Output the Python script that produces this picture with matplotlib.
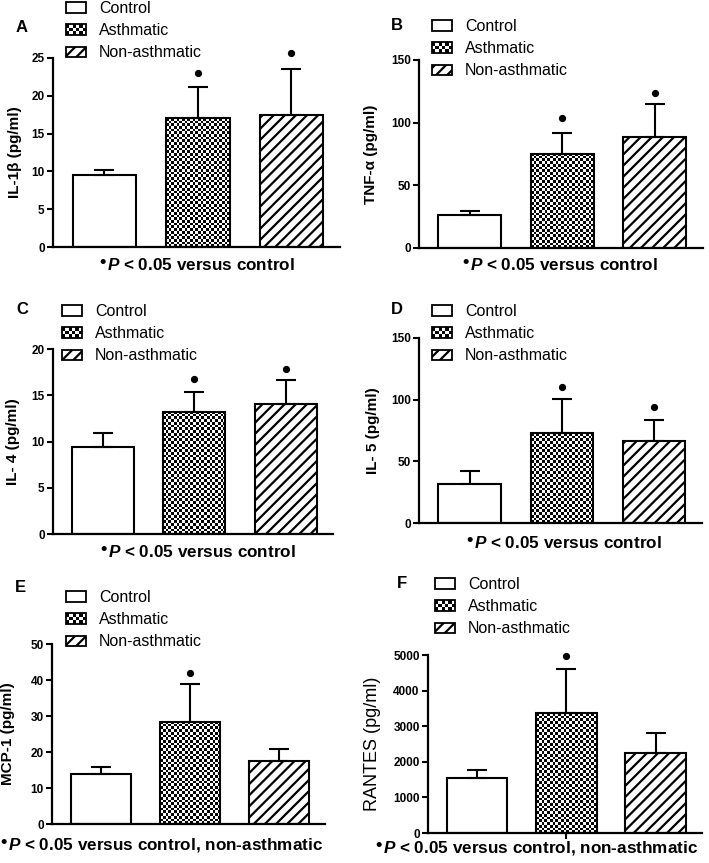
import numpy as np
import matplotlib
matplotlib.use('Agg')
import matplotlib.pyplot as plt
from matplotlib.patches import Rectangle
from matplotlib.legend_handler import HandlerBase

plt.rcParams['font.family'] = ['Liberation Sans', 'DejaVu Sans']
plt.rcParams['hatch.linewidth'] = 1.6
plt.rcParams['mathtext.fontset'] = 'custom'
plt.rcParams['mathtext.rm'] = 'Liberation Sans:bold'
plt.rcParams['mathtext.it'] = 'Liberation Sans:italic:bold'
plt.rcParams['mathtext.bf'] = 'Liberation Sans:bold'

groups = ['Control', 'Asthmatic', 'Non-asthmatic']

# mean, upper error (SEM), significance marker height (nan = none)
il1b_mean = [9.5, 17.05, 17.5]
il1b_err = [0.75, 4.1, 6.0]
il1b_sig = [np.nan, 23.05, 25.6]

tnfa_mean = [26.1, 75.1, 88.4]
tnfa_err = [3.5, 16.6, 26.4]
tnfa_sig = [np.nan, 103.6, 123.4]

il4_mean = [9.45, 13.2, 14.1]
il4_err = [1.45, 2.1, 2.6]
il4_sig = [np.nan, 16.75, 17.8]

il5_mean = [31.8, 72.7, 66.3]
il5_err = [10.2, 27.5, 17.5]
il5_sig = [np.nan, 110.0, 94.0]

mcp1_mean = [14.0, 28.4, 17.5]
mcp1_err = [1.9, 10.4, 3.4]
mcp1_sig = [np.nan, 41.9, np.nan]

rantes_mean = [1542, 3364, 2252]
rantes_err = [234, 1234, 552]
rantes_sig = [np.nan, 4972, np.nan]

W, H = 709, 863
fig = plt.figure(figsize=(W / 100, H / 100), dpi=100)

# panel settings: axes box in px (left, right, top, bottom)
panels = [
    dict(letter='A', ylabel='IL-1β (pg/ml)', mean=il1b_mean, err=il1b_err, sig=il1b_sig,
         ymax=25, step=5, box=(53, 340, 58, 247), letter_xy=(22, 28), leg_xy=(66, 1),
         note='control', note_xy=(201, 265), ylab_x=22.5),
    dict(letter='B', ylabel='TNF-α (pg/ml)', mean=tnfa_mean, err=tnfa_err, sig=tnfa_sig,
         ymax=150, step=50, box=(419, 703, 60, 248), letter_xy=(397, 25), leg_xy=(432, 19),
         note='control', note_xy=(564, 265), ylab_x=377.5),
    dict(letter='C', ylabel='IL- 4 (pg/ml)', mean=il4_mean, err=il4_err, sig=il4_sig,
         ymax=20, step=5, box=(53, 333, 349, 534), letter_xy=(22, 310), leg_xy=(62, 304),
         note='control', note_xy=(202, 552), ylab_x=20.5),
    dict(letter='D', ylabel='IL- 5 (pg/ml)', mean=il5_mean, err=il5_err, sig=il5_sig,
         ymax=150, step=50, box=(419, 702, 338, 523), letter_xy=(397, 310), leg_xy=(432, 304),
         note='control', note_xy=(568, 543), ylab_x=380.5),
    dict(letter='E', ylabel='MCP-1 (pg/ml)', mean=mcp1_mean, err=mcp1_err, sig=mcp1_sig,
         ymax=50, step=10, box=(52, 325, 644, 824), letter_xy=(20, 587), leg_xy=(66, 590),
         note='control, non-asthmatic', note_xy=(166, 845), ylab_x=15.5),
    dict(letter='F', ylabel='RANTES (pg/ml)', mean=rantes_mean, err=rantes_err, sig=rantes_sig,
         ymax=5000, step=1000, box=(428, 702, 655, 833), letter_xy=(402, 583), leg_xy=(435, 577),
         note='control, non-asthmatic', note_xy=(541, 848), ylab_x=381.5),
]


class CheckerHandler(HandlerBase):
    def create_artists(self, legend, orig_handle, xdescent, ydescent, width, height, fontsize, trans):
        arts = []
        nx, ny = 6, 3
        cw, ch = width / nx, height / ny
        for i in range(nx):
            for j in range(ny):
                if (i + j) % 2 == 0:
                    arts.append(Rectangle((-xdescent + i * cw, -ydescent + j * ch), cw, ch,
                                          facecolor='black', edgecolor='none', transform=trans))
        arts.append(Rectangle((-xdescent, -ydescent), width, height, facecolor='none',
                              edgecolor='black', lw=1.3, transform=trans))
        return arts


x = np.arange(3)
bw = 0.68
x0, x1 = -0.55, 2.52
cell = 2.7  # checker cell size in px
renderer = fig.canvas.get_renderer()

for p in panels:
    l, r, t, b = p['box']
    ax = fig.add_axes([l / W, 1 - b / H, (r - l) / W, (b - t) / H])

    mean = np.array(p['mean'], dtype=float)
    ax.bar(x[0], mean[0], bw, facecolor='white', edgecolor='black', lw=1.5, zorder=2)
    ax.bar(x[1], mean[1], bw, facecolor='none', edgecolor='black', lw=1.5, zorder=2)
    ax.bar(x[2], mean[2], bw, facecolor='white', edgecolor='black', hatch='///', lw=1.5, zorder=2)

    # checkerboard fill for the asthmatic bar
    px_per_x = (r - l) / (x1 - x0)
    px_per_y = (b - t) / p['ymax']
    nx = max(1, int(round(bw * px_per_x / cell)))
    ny = max(1, int(round(mean[1] * px_per_y / cell)))
    board = np.add.outer(np.arange(ny), np.arange(nx)) % 2
    ax.imshow(board, cmap='gray', extent=(x[1] - bw / 2, x[1] + bw / 2, 0, mean[1]),
              aspect='auto', interpolation='nearest', zorder=1)
    ax.set_xlim(x0, x1)
    ax.set_ylim(0, p['ymax'])

    ax.errorbar(x, mean, yerr=[np.zeros(3), p['err']], fmt='none', ecolor='black',
                elinewidth=1.5, capsize=7, capthick=1.5, zorder=3)
    ax.plot(x, p['sig'], 'o', color='black', markersize=4.2, zorder=3, clip_on=False)

    for s in ['top', 'right']:
        ax.spines[s].set_visible(False)
    for s in ['left', 'bottom']:
        ax.spines[s].set_linewidth(1.6)
    ax.set_yticks(np.arange(0, p['ymax'] + 1, p['step']))
    ax.tick_params(axis='y', direction='out', length=4, width=1.5, labelsize=8.5, pad=2)
    for lbl in ax.get_yticklabels():
        lbl.set_fontweight('bold')
    if p['letter'] == 'F':
        ax.set_xticks([1])
        ax.set_xticklabels([''])
        ax.tick_params(axis='x', direction='out', length=4, width=1.5)
        ax.set_ylabel(p['ylabel'], fontsize=13)
    else:
        ax.set_xticks([])
        ax.set_ylabel(p['ylabel'], fontsize=11, fontweight='bold')
    ax.yaxis.set_label_coords((p['ylab_x'] - l) / (r - l), 0.5)

    h_ctrl = Rectangle((0, 0), 1, 1, facecolor='white', edgecolor='black', lw=1.3)
    h_asth = Rectangle((0, 0), 1, 1, facecolor='white', edgecolor='black', lw=1.3)
    h_non = Rectangle((0, 0), 1, 1, facecolor='white', edgecolor='black', lw=1.3, hatch='///')
    lx, ly = p['leg_xy']
    ax.legend([h_ctrl, h_asth, h_non], groups, handler_map={h_asth: CheckerHandler()},
              loc='upper left', bbox_to_anchor=(lx / W, 1 - ly / H), bbox_transform=fig.transFigure,
              frameon=False, fontsize=11.5, handlelength=1.25, handleheight=0.63,
              handletextpad=0.82, labelspacing=0.45, borderpad=0, borderaxespad=0)

    fx, fy = p['letter_xy']
    fig.text(fx / W, 1 - fy / H, p['letter'], fontsize=12, fontweight='bold', ha='center', va='center')

    # note below the x axis, with a raised bullet in front of it
    nx_, ny_ = p['note_xy']
    note = fig.text(nx_ / W, 1 - ny_ / H, r'$\mathit{P}$ < 0.05 versus ' + p['note'],
                    fontsize=12.3, fontweight='bold', ha='center', va='center')
    bb = note.get_window_extent(renderer)
    fig.text((bb.x0 - 1.5) / W, 1 - (ny_ - 3) / H, '•', fontsize=13, fontweight='bold',
             ha='right', va='center')

fig.savefig('out.png', dpi=100)
